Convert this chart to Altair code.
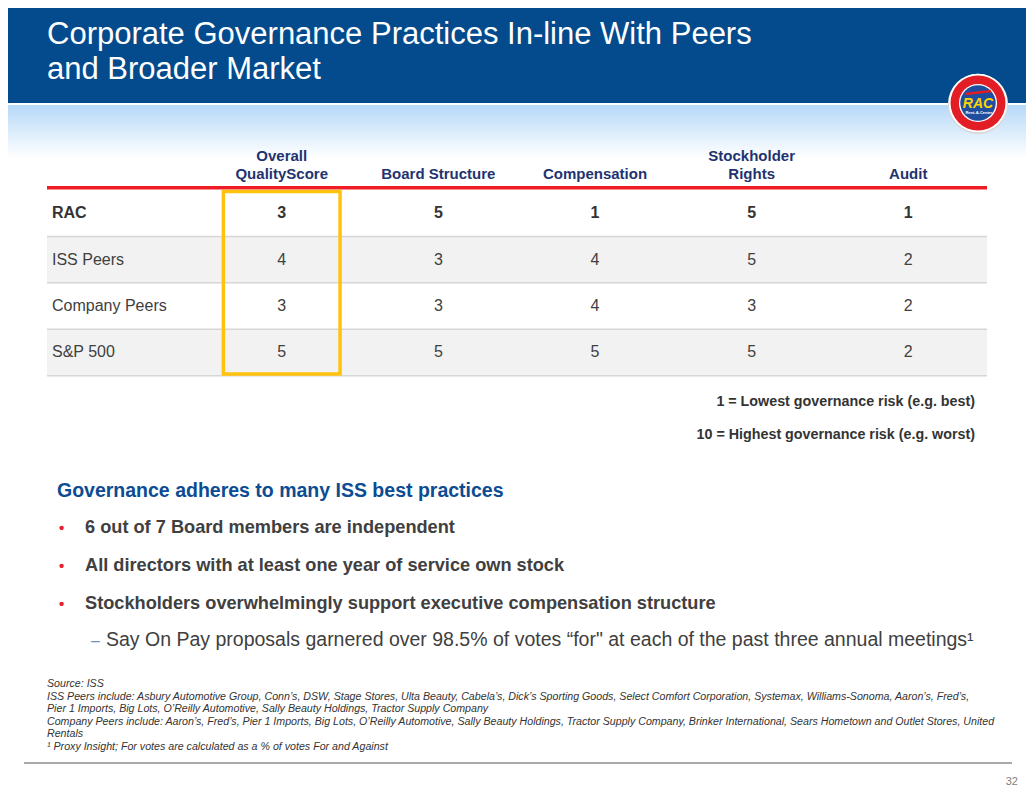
import altair as alt
import pandas as pd
import math

# ---------------- data ----------------
rows = ["RAC", "ISS Peers", "Company Peers", "S&P 500"]
cols = ["Overall QualityScore", "Board Structure", "Compensation", "Stockholder Rights", "Audit"]
header_line1 = ["Overall", "", "", "Stockholder", ""]
header_line2 = ["QualityScore", "Board Structure", "Compensation", "Rights", "Audit"]
rac = [3, 5, 1, 5, 1]
iss_peers = [4, 3, 4, 5, 2]
company_peers = [3, 3, 4, 3, 2]
sp500 = [5, 5, 5, 5, 2]
highlight_col = "Overall QualityScore"

title_lines = ["Corporate Governance Practices In-line With Peers", "and Broader Market"]
legend_notes = ["1 = Lowest governance risk (e.g. best)", "10 = Highest governance risk (e.g. worst)"]
heading = "Governance adheres to many ISS best practices"
bullets = [
    "6 out of 7 Board members are independent",
    "All directors with at least one year of service own stock",
    "Stockholders overwhelmingly support executive compensation structure",
]
sub_bullet = "Say On Pay proposals garnered over 98.5% of votes \u201cfor\" at each of the past three annual meetings\u00b9"
footnotes = [
    "Source: ISS",
    "ISS Peers include: Asbury Automotive Group, Conn\u2019s, DSW, Stage Stores, Ulta Beauty, Cabela\u2019s, Dick\u2019s Sporting Goods, Select Comfort Corporation, Systemax, Williams-Sonoma, Aaron\u2019s, Fred\u2019s,",
    "Pier 1 Imports, Big Lots, O\u2019Reilly Automotive, Sally Beauty Holdings, Tractor Supply Company",
    "Company Peers include: Aaron\u2019s, Fred\u2019s, Pier 1 Imports, Big Lots, O\u2019Reilly Automotive, Sally Beauty Holdings, Tractor Supply Company, Brinker International, Sears Hometown and Outlet Stores, United",
    "Rentals",
    "\u00b9 Proxy Insight; For votes are calculated as a % of votes For and Against",
]
page_number = "32"

# ---------------- layout helpers ----------------
FONT = "Liberation Sans"
W, H = 1018, 783


def X(px):
    return px - 8


def Y(py):
    return py - 8


def label(text, x, y, size, color, weight="normal", style="normal", align="left"):
    kw = dict(align=align, baseline="alphabetic", fontSize=size, fontWeight=weight,
              fontStyle=style, color=color, font=FONT)
    return alt.Chart(pd.DataFrame({"t": [text]})).mark_text(**kw).encode(
        x=alt.value(X(x)), y=alt.value(Y(y)), text="t:N")


def box(x1, x2, y1, y2, color):
    return alt.Chart(pd.DataFrame({"a": [0]})).mark_rect(color=color).encode(
        x=alt.value(X(x1)), x2=alt.value(X(x2)), y=alt.value(Y(y1)), y2=alt.value(Y(y2)))


def hline(x1, x2, y, color, width):
    return alt.Chart(pd.DataFrame({"a": [0]})).mark_rule(color=color, strokeWidth=width).encode(
        x=alt.value(X(x1)), x2=alt.value(X(x2)), y=alt.value(Y(y)))


def disc(cx, cy, r, color):
    return alt.Chart(pd.DataFrame({"a": [0]})).mark_circle(
        color=color, opacity=1, size=math.pi * r * r).encode(
        x=alt.value(X(cx)), y=alt.value(Y(cy)))


# ---------------- table frame ----------------
TABLE_L, TABLE_R = 47, 987
xscale = alt.Scale(domain=cols, range=[X(203.4), X(986.6)], paddingInner=0, paddingOuter=0)
yscale = alt.Scale(domain=rows, range=[Y(190), Y(375.7)], paddingInner=0, paddingOuter=0)

cells = []
for r, vals in zip(rows, [rac, iss_peers, company_peers, sp500]):
    for c, v in zip(cols, vals):
        cells.append({"row": r, "col": c, "value": v})
cells = pd.DataFrame(cells)
row_df = pd.DataFrame({"row": rows, "shade": [i % 2 == 1 for i in range(len(rows))]})
head_df = pd.DataFrame({"col": cols, "l1": header_line1, "l2": header_line2})

shade = alt.Chart(row_df).transform_filter("datum.shade").mark_rect(color="#f2f2f2").encode(
    y=alt.Y("row:N", scale=yscale, axis=None),
    x=alt.value(X(TABLE_L)), x2=alt.value(X(TABLE_R)))

seps = alt.Chart(row_df).mark_rule(color="#d6d6d6", strokeWidth=1.5).encode(
    y=alt.Y("row:N", scale=yscale, axis=None, bandPosition=1),
    x=alt.value(X(TABLE_L)), x2=alt.value(X(TABLE_R)))

red_line = hline(TABLE_L, TABLE_R, 187.7, "#ee1c25", 3.5)

hl = alt.Chart(head_df).transform_filter(alt.datum.col == highlight_col).mark_bar(
    fillOpacity=0, stroke="#ffc20e", strokeWidth=3.5, width=alt.RelativeBandSize(0.745)).encode(
    x=alt.X("col:N", scale=xscale, axis=None),
    y=alt.value(Y(191.5)), y2=alt.value(Y(374)))

head1 = alt.Chart(head_df).mark_text(fontSize=15, fontWeight="bold", color="#1f3370", font=FONT,
                                     baseline="alphabetic").encode(
    x=alt.X("col:N", scale=xscale, axis=None), y=alt.value(Y(161)), text="l1:N")
head2 = alt.Chart(head_df).mark_text(fontSize=15, fontWeight="bold", color="#1f3370", font=FONT,
                                     baseline="alphabetic").encode(
    x=alt.X("col:N", scale=xscale, axis=None), y=alt.value(Y(179)), text="l2:N")

vals_bold = alt.Chart(cells).transform_filter(alt.datum.row == rows[0]).mark_text(
    fontSize=16, fontWeight="bold", color="#333333", font=FONT, baseline="middle").encode(
    x=alt.X("col:N", scale=xscale, axis=None),
    y=alt.Y("row:N", scale=yscale, axis=None), text="value:Q")
vals_norm = alt.Chart(cells).transform_filter(alt.datum.row != rows[0]).mark_text(
    fontSize=16, color="#404040", font=FONT, baseline="middle").encode(
    x=alt.X("col:N", scale=xscale, axis=None),
    y=alt.Y("row:N", scale=yscale, axis=None), text="value:Q")

row_bold = alt.Chart(row_df).transform_filter(alt.datum.row == rows[0]).mark_text(
    fontSize=16, fontWeight="bold", color="#333333", font=FONT, align="left", baseline="middle").encode(
    y=alt.Y("row:N", scale=yscale, axis=None), x=alt.value(X(52)), text="row:N")
row_norm = alt.Chart(row_df).transform_filter(alt.datum.row != rows[0]).mark_text(
    fontSize=16, color="#404040", font=FONT, align="left", baseline="middle").encode(
    y=alt.Y("row:N", scale=yscale, axis=None), x=alt.value(X(52)), text="row:N")

# ---------------- header band ----------------
title_bar = box(0, 1034, 0, 103, "#034b8c")
grad = alt.Chart(pd.DataFrame({"a": [0]})).mark_rect(
    color=alt.LinearGradient(gradient="linear", x1=0, x2=0, y1=0, y2=1,
                             stops=[alt.GradientStop(color="#b6d9f8", offset=0),
                                    alt.GradientStop(color="#ffffff", offset=1)])).encode(
    x=alt.value(X(0)), x2=alt.value(X(1034)), y=alt.value(Y(105)), y2=alt.value(Y(158)))

layers = [title_bar, grad]
for i, t in enumerate(title_lines):
    layers.append(label(t, 47, 44 + i * 34.5, 31, "#ffffff"))

# logo
layers += [
    disc(978, 104, 34, "#d9d9d9"),
    disc(978, 103, 33, "#ffffff"),
    disc(978, 103, 31, "#e31d25"),
    disc(978, 103, 21.5, "#ffffff"),
    disc(978, 103, 20, "#1f4e9e"),
    alt.Chart(pd.DataFrame({"a": [0]})).mark_rule(color="#e31d25", strokeWidth=2.5).encode(
        x=alt.value(X(966)), x2=alt.value(X(991)), y=alt.value(Y(94)), y2=alt.value(Y(91))),
    label("RAC", 978, 108, 14, "#ffd400", weight="bold", style="italic", align="center"),
    label("Rent-A-Center", 979, 114, 4, "#ffffff", weight="bold", align="center"),
]

# table
layers += [shade, seps, red_line, hl, head1, head2, vals_bold, vals_norm, row_bold, row_norm]

# notes under the table
layers.append(label(legend_notes[0], 975, 406, 14.3, "#333333", weight="bold", align="right"))
layers.append(label(legend_notes[1], 975, 439, 14.3, "#333333", weight="bold", align="right"))

# text block
layers.append(label(heading, 57, 497, 19.5, "#0b4c93", weight="bold"))
for i, b in enumerate(bullets):
    yb = 533 + i * 38
    layers.append(label("\u2022", 59, yb, 15, "#e8202a", weight="bold"))
    layers.append(label(b, 85, yb, 18.2, "#404040", weight="bold"))
layers.append(label("\u2013", 91, 646, 16, "#7590bb"))
layers.append(label(sub_bullet, 106, 646, 19.5, "#404040"))

# footnotes
for i, f in enumerate(footnotes):
    layers.append(label(f, 47, 687 + i * 12.6, 10.65, "#333333", style="italic"))

layers.append(hline(24, 1012, 763, "#8c8c8c", 1.5))
layers.append(label(page_number, 1018, 785, 11, "#7f7f7f", align="right"))

chart = alt.layer(*layers).properties(
    width=W, height=H, padding=0, background="#ffffff",
    autosize=alt.AutoSizeParams(type="none"),
).configure_view(stroke=None)

chart.save("out.html", embed_options={"renderer": "svg", "actions": False})
